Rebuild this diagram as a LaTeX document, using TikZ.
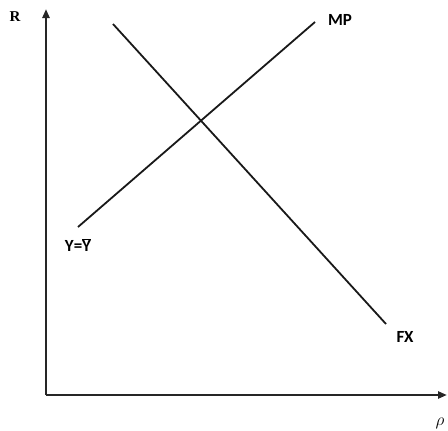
\documentclass[tikz,border=0pt]{standalone}
\usepackage{fontspec}
\newfontfamily\lblfont{Carlito}
\newfontfamily\seriffont{Liberation Serif}
\usetikzlibrary{arrows.meta}
\begin{document}
\begin{tikzpicture}[x=1pt,y=-1pt,
  axis/.style={line width=2.2pt,draw=black!85,-{Triangle[length=9pt,width=7pt]}},
  curve/.style={line width=1.8pt,draw=black!90},
  lbl/.style={font=\lblfont\bfseries\fontsize{17}{19}\selectfont,inner sep=0pt}]
\useasboundingbox (0,0) rectangle (448,431);
\coordinate (O) at (46,395);
\coordinate (Ytop) at (46,9);
\coordinate (Xend) at (447,395);
\draw[axis] (O) -- (Ytop);
\draw[axis] (O) -- (Xend);
\coordinate (mp1) at (78,227);
\coordinate (mp2) at (315,22);
\coordinate (fx1) at (113,24);
\coordinate (fx2) at (386,324);
\draw[curve] (mp1) -- (mp2);
\draw[curve] (fx1) -- (fx2);
\node[font=\seriffont\bfseries\fontsize{15}{17}\selectfont,inner sep=0pt] (R) at (15,17) {R};
\node[lbl] (MP) at (340,20) {MP};
\node[lbl] (FX) at (405,337) {FX};
\node[lbl] (Y) at (78,245) {Y=$\overline{\mbox{Y}}$};
\node[inner sep=0pt,font=\fontsize{17}{19}\selectfont] (rho) at (440,423) {$\rho$};
\end{tikzpicture}
\end{document}
